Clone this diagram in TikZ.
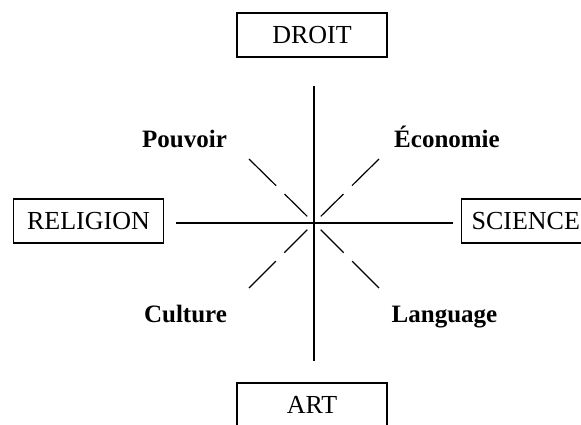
\documentclass[tikz,border=0pt]{standalone}
\usepackage{fontspec}
\setmainfont{Liberation Serif}
\tikzset{
  box/.style={draw, minimum width=75pt, minimum height=22pt, inner sep=3pt, font=\fontsize{13}{15}\selectfont},
  lbl/.style={anchor=base, font=\fontsize{12.5}{15}\bfseries\selectfont},
  diag/.style={dash pattern=on 19pt off 6pt, shorten >=4.75pt}
}
\begin{document}
\begin{tikzpicture}[x=0.5pt, y=-0.5pt, line width=0.6pt]
\useasboundingbox (0,0) rectangle (581,424);
\clip (0,0) rectangle (581,424);
\coordinate (centre) at (314,223);
\node[box] (droit) at (312,35){DROIT};
\node[box] (art) at (312,405){ART};
\node[box] (religion) at (88.5,221){RELIGION};
\node[box, anchor=west, minimum width=0pt, inner xsep=5pt] (science) at (461,221){SCIENCE};
\node[lbl] (pouvoir) at (184.5,147){Pouvoir};
\node[lbl] (economie) at (447,147){Économie};
\node[lbl] (culture) at (185.5,322){Culture};
\node[lbl] (language) at (444.5,322){Language};
\coordinate (nw) at (249,159);
\coordinate (ne) at (379,159);
\coordinate (sw) at (249,288);
\coordinate (se) at (379,288);
\draw[shorten <=14pt, shorten >=10.5pt](droit.south -| centre) -- (art.north -| centre);
\draw[shorten <=6pt, shorten >=4pt](religion.east |- centre) -- (science.west |- centre);
\draw[diag](nw) -- (centre);
\draw[diag](ne) -- (centre);
\draw[diag](sw) -- (centre);
\draw[diag](se) -- (centre);
\end{tikzpicture}
\end{document}
